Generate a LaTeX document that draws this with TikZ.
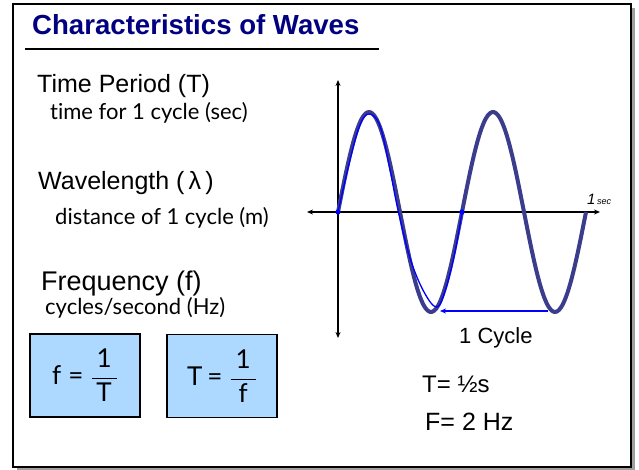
\documentclass[tikz,border=0pt]{standalone}
\usepackage{fontspec}
\usepackage{amsmath}
\setmainfont{Liberation Sans}
\newfontfamily\humfont[Ligatures={NoCommon}]{Lato}
\usetikzlibrary{arrows.meta}

\definecolor{titleblue}{RGB}{0,0,128}
\definecolor{wavecol}{RGB}{60,60,140}
\definecolor{boxblue}{RGB}{173,216,255}

\newcommand{\eqfrac}[2]{\linethickness{1.4pt}$\dfrac{\makebox[25pt]{#1}}{\makebox[25pt]{#2}}$}

\tikzset{
  head/.style={font=\fontsize{25}{25}\selectfont},
  subhead/.style={font=\humfont\fontsize{22}{22}\selectfont},
  eqbox/.style={draw,line width=1.2pt,fill=boxblue,minimum width=110pt,minimum height=83pt,
    anchor=center,font=\humfont\fontsize{26}{26}\selectfont},
  handw/.style={font=\fontsize{24}{24}\selectfont},
  axis/.style={line width=1.5pt,{Stealth[length=6pt,width=5pt]}-{Stealth[length=6pt,width=5pt]}}
}

\begin{document}
\begin{tikzpicture}[x=1pt,y=-1pt, every node/.style={inner sep=0pt,anchor=base west}]
  \useasboundingbox (0,0) rectangle (639,470);
  % frame
  \fill[gray!75] (17,8) rectangle (635,471);
  \draw[line width=1.5pt,fill=white] (13,4) rectangle (631,467);

  \node[font=\fontsize{27.6}{27.6}\selectfont\bfseries,text=titleblue] (title) at (32,35) {Characteristics of Waves};
  \draw[line width=2pt] (25,49) -- (379,49);

  \node[head] (period) at (37,93) {Time Period (T)};
  \node[subhead] (periodsub) at (50,120) {time for 1 cycle (sec)};
  \node[head] (wave) at (38,190) {Wavelength (\,λ\,)};
  \node[subhead] (wavesub) at (55,225) {distance of 1 cycle (m)};
  \node[head,font=\fontsize{27}{27}\selectfont] (freq) at (41,290) {Frequency (f)};
  \node[subhead] (freqsub) at (45,314) {cycles/second (Hz)};

  \node[eqbox] (feq) at (85,375.5) {f\hspace{7pt}=\hspace{7pt}\eqfrac{1}{T}};
  \node[eqbox] (teq) at (222,376) {T\hspace{5pt}=\hspace{7pt}\eqfrac{1}{f}};

  % axes
  \coordinate (ytop) at (338,80);
  \coordinate (ybot) at (338,338);
  \coordinate (xleft) at (307,212);
  \coordinate (xright) at (600,212);
  \draw[axis] (ybot) -- (ytop);
  \draw[axis] (xleft) -- (xright);

  % the wave
  \draw[wavecol,line width=4pt,line join=round]
    plot[domain=338:586,samples=120,smooth] (\x,{212-100*sin((\x-338)/124*360)});
  \draw[blue,line width=1.3pt] plot[smooth,tension=0.6] coordinates
    {(338,212) (350,160) (360,125) (369,114) (380,126) (390,170) (398,210)
     (410,258) (424,292) (437,307) (446,288) (455,252) (462,212)};
  \fill[blue] (338,212) circle (2.6) (462,212) circle (2.6);

  \coordinate (cycfrom) at (548,311);
  \coordinate (cycto) at (440,311);
  \draw[blue,line width=1.2pt,-{Stealth[length=6pt,width=5pt]}] (cycfrom) -- (cycto);
  \node[font=\fontsize{22}{22}\selectfont] (cyclelbl) at (459,343) {1 Cycle};

  \node[font=\itshape] (seclbl) at (587,205) {{\fontsize{15}{15}\selectfont 1}\,{\fontsize{9}{9}\selectfont sec}};
  \node[handw] (hwT) at (422,392) {T= ½s};
  \node[handw,font=\fontsize{25}{25}\selectfont] (hwF) at (425,430) {F= 2 Hz};
\end{tikzpicture}
\end{document}
